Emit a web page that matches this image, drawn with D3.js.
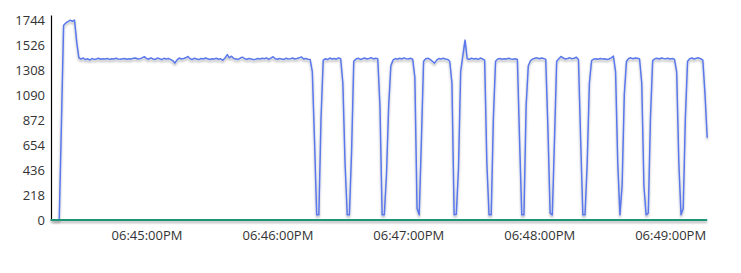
<!DOCTYPE html>
<html>
<head>
<meta charset="utf-8">
<script src="https://cdn.jsdelivr.net/npm/d3@7"></script>
<style>
  body { margin: 0; background: #fff; }
  svg text { font-family: "Segoe UI", "Open Sans", sans-serif; font-size: 13px; fill: #333; }
</style>
</head>
<body>
<svg id="chart"></svg>
<script>
// one sample per second, 18:44:17 -> 18:49:17
const startTime = "18:44:17";
const endTime = "18:49:17";
const stepSeconds = 1;

const requestValues = [
  0, 0, 0, 0,
  850, 1705, 1725, 1738, 1750, 1740, 1750, 1560, 1420,
  1410, 1418, 1404, 1412, 1400, 1414, 1406, 1410, 1416, 1408,
  1412, 1410, 1414, 1406, 1412, 1410, 1416, 1410, 1408, 1412,
  1414, 1408, 1412, 1410, 1416, 1418, 1410, 1412, 1420, 1430,
  1414, 1408, 1420, 1410, 1406, 1418, 1412, 1404, 1416, 1410,
  1414, 1406, 1396, 1374, 1402, 1418, 1410, 1414, 1420, 1432,
  1412, 1406, 1416, 1410, 1404, 1414, 1410, 1418, 1412, 1406,
  1412, 1410, 1416, 1408, 1412, 1398, 1418, 1448, 1420, 1434,
  1414, 1410, 1406, 1418, 1426, 1412, 1408, 1414, 1410, 1404,
  1408, 1414, 1410, 1416, 1412, 1420, 1406, 1418, 1430, 1412,
  1408, 1414, 1410, 1406, 1416, 1410, 1412, 1418, 1410, 1414,
  1420, 1428, 1410, 1414, 1408, 1406,
  1300, 700, 45, 45, 900, 1400,
  1412, 1404, 1418, 1410, 1414, 1408, 1420, 1412,
  1200, 500, 45, 45, 600, 1390,
  1410, 1416, 1406, 1412, 1418, 1410, 1414, 1422, 1410, 1416, 1412,
  1000, 45, 45, 400, 1000, 1350, 1400,
  1414, 1408, 1416, 1410, 1420, 1412, 1410, 1416, 1408,
  1250, 100, 45, 700, 1390,
  1412, 1416, 1406, 1390, 1374, 1400, 1414, 1410, 1416, 1410, 1406, 1390,
  1200, 45, 50, 450, 1300, 1440, 1575, 1412,
  1408, 1416, 1410, 1414, 1406, 1418, 1410, 1400,
  500, 45, 45, 900, 1390,
  1410, 1414, 1408, 1412, 1410, 1416, 1410, 1408, 1412, 1406,
  700, 45, 45, 1000, 1350, 1395,
  1410, 1416, 1420, 1412, 1418, 1414, 1406,
  800, 60, 45, 700, 1390,
  1412, 1432, 1418, 1410, 1414, 1420, 1412, 1416, 1426, 1406,
  700, 45, 45, 500, 1200, 1395,
  1410, 1412, 1408, 1414, 1410, 1412, 1406, 1410, 1420, 1436,
  1300, 500, 45, 300, 1100, 1390,
  1414, 1420, 1412, 1418, 1416, 1410,
  1200, 300, 45, 60, 900, 1395,
  1412, 1416, 1410, 1418, 1414, 1412, 1416, 1410, 1414, 1408,
  1300, 500, 45, 100, 900, 1390,
  1412, 1418, 1410, 1416, 1420, 1412, 1400,
  1100, 720
];

// second series stays flat at zero for the whole window
const errorTimes = ["18:44:16", "18:49:17"];
const errorValues = [0, 0];

const yTicks = [0, 218, 436, 654, 872, 1090, 1308, 1526, 1744];
const xTicks = ["18:45:00", "18:46:00", "18:47:00", "18:48:00", "18:49:00"];
const yMax = 1795;

const width = 741, height = 273;
const parse = d3.timeParse("%H:%M:%S");
const t0 = parse(startTime);

const svg = d3.select("#chart").attr("width", width).attr("height", height);

const defs = svg.append("defs");
const shadow = defs.append("filter").attr("id", "shadow")
    .attr("filterUnits", "userSpaceOnUse")
    .attr("x", 0).attr("y", 0).attr("width", width).attr("height", height);
shadow.append("feDropShadow")
    .attr("dx", 0).attr("dy", 2).attr("stdDeviation", 1.2)
    .attr("flood-color", "#000").attr("flood-opacity", 0.3);

const x = d3.scaleTime()
    .domain([parse(startTime), parse(endTime)])
    .range([52.7, 707.2]);

const y = d3.scaleLinear()
    .domain([0, yMax])
    .range([220, 15]);

const requests = requestValues.map((v, i) => ({ t: new Date(t0.getTime() + i * stepSeconds * 1000), v }));
const errors = errorTimes.map((s, i) => ({ t: parse(s), v: errorValues[i] }));

const line = d3.line().x(d => x(d.t)).y(d => y(d.v));

// y axis
const yAxis = svg.append("g")
    .attr("transform", "translate(51,0)")
    .call(d3.axisLeft(y).tickValues(yTicks).tickFormat(d3.format("d")).tickSize(0).tickPadding(6));
yAxis.select(".domain").attr("stroke", "#000").attr("stroke-width", 1.2);
yAxis.selectAll("text").attr("fill", "#333");

// x axis labels only
const xAxis = svg.append("g")
    .attr("transform", "translate(0,220)")
    .call(d3.axisBottom(x)
        .tickValues(xTicks.map(parse))
        .tickFormat(d3.timeFormat("%I:%M:%S%p"))
        .tickSize(0).tickPadding(11));
xAxis.select(".domain").remove();
xAxis.selectAll("text").attr("fill", "#333");

svg.append("path")
    .datum(requests)
    .attr("fill", "none")
    .attr("stroke", "#5a78ea")
    .attr("stroke-width", 1.5)
    .attr("stroke-linejoin", "round")
    .attr("filter", "url(#shadow)")
    .attr("d", line);

svg.append("path")
    .datum(errors)
    .attr("fill", "none")
    .attr("stroke", "#1b9474")
    .attr("stroke-width", 1.8)
    .attr("filter", "url(#shadow)")
    .attr("d", line);
</script>
</body>
</html>
